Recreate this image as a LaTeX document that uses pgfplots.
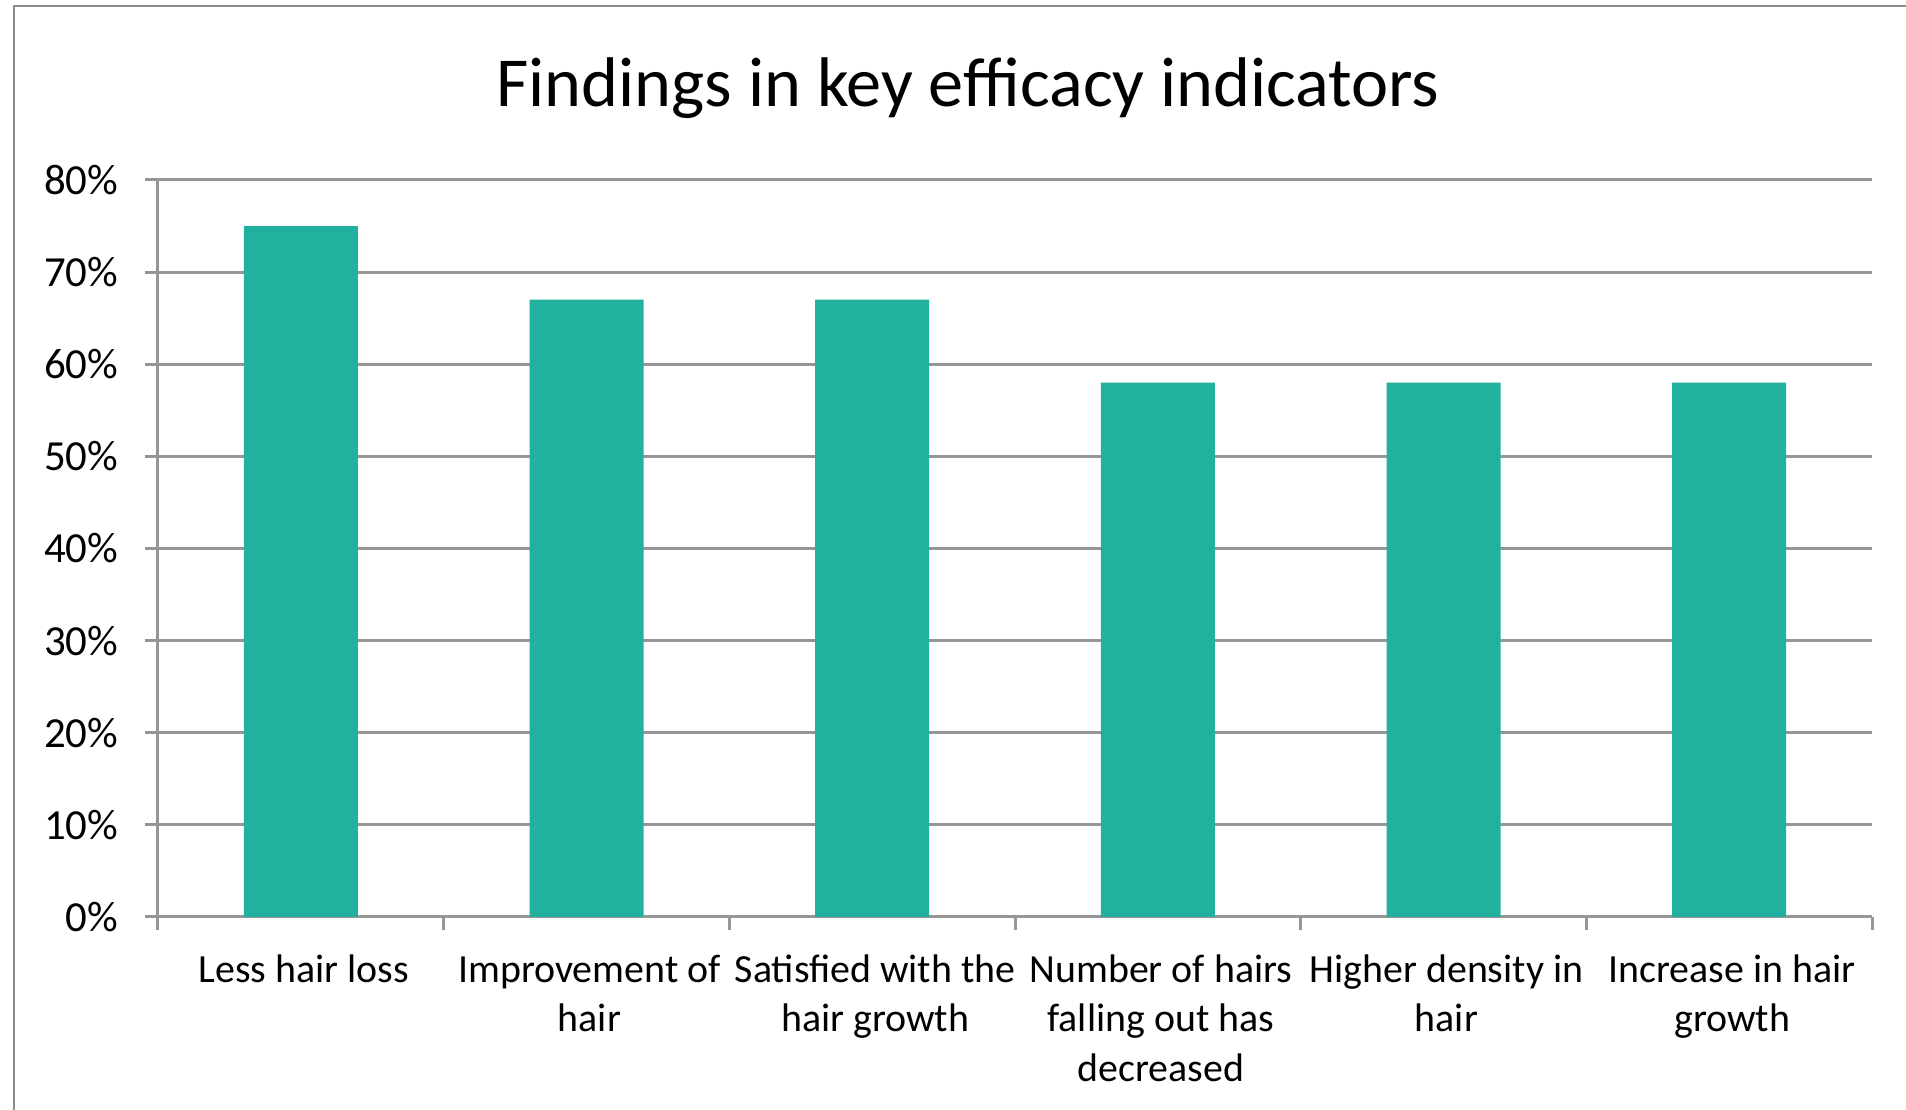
\documentclass[border=0pt]{standalone}
\usepackage{pgfplots}
\pgfplotsset{compat=1.18}
\usepackage{fontspec}
\setmainfont{Carlito}
\definecolor{barc}{RGB}{34,177,158}
\definecolor{gridc}{RGB}{150,150,150}
\definecolor{framec}{RGB}{140,140,140}
\begin{document}
\begin{tikzpicture}[x=1mm,y=1mm]
\useasboundingbox (0,0) rectangle (190.6,111);
\draw[framec, line width=0.25mm] (1.4,0) -- (1.4,110.4) -- (191,110.4);
\node[anchor=base, inner sep=0pt, font=\fontsize{20}{24}\selectfont] at (96.8,100.3) {Findings in key efficacy indicators};
\begin{axis}[
  at={(15.8mm,19.3mm)}, anchor=south west,
  scale only axis, width=171.4mm, height=73.7mm,
  xmin=-0.5, xmax=5.5, ymin=0, ymax=80,
  axis x line*=bottom, axis y line*=left,
  axis line style={draw=gridc, line width=0.3mm, -},
  tick align=outside, major tick length=1.3mm,
  tick style={draw=gridc, line width=0.3mm},
  ymajorgrids, major grid style={draw=gridc, line width=0.3mm},
  ytick={0,10,...,80},
  yticklabel={\pgfmathprintnumber{\tick}\%},
  /pgf/number format/assume math mode=true,
  yticklabel style={font=\fontsize{12.2}{14}\selectfont, inner sep=0pt, xshift=-2.6mm},
  xtick={-0.5,0.5,...,5.5}, xticklabels={},
  extra x ticks={0,1,2,3,4,5},
  extra x tick labels={{Less hair loss},{Improvement of\\hair},{Satisfied with the\\hair growth},{Number of hairs\\falling out has\\decreased},{Higher density in\\hair},{Increase in hair\\growth}},
  extra x tick style={major tick length=0pt, tick label style={align=center, anchor=north, inner sep=0pt, yshift=-3.7mm, xshift=0.3mm, font=\fontsize{11.35}{14.1}\selectfont}},
]
\addplot[ybar, bar width=11.4mm, fill=barc, draw=none] coordinates {(0,75) (1,67) (2,67) (3,58) (4,58) (5,58)};
\end{axis}
\end{tikzpicture}
\end{document}
